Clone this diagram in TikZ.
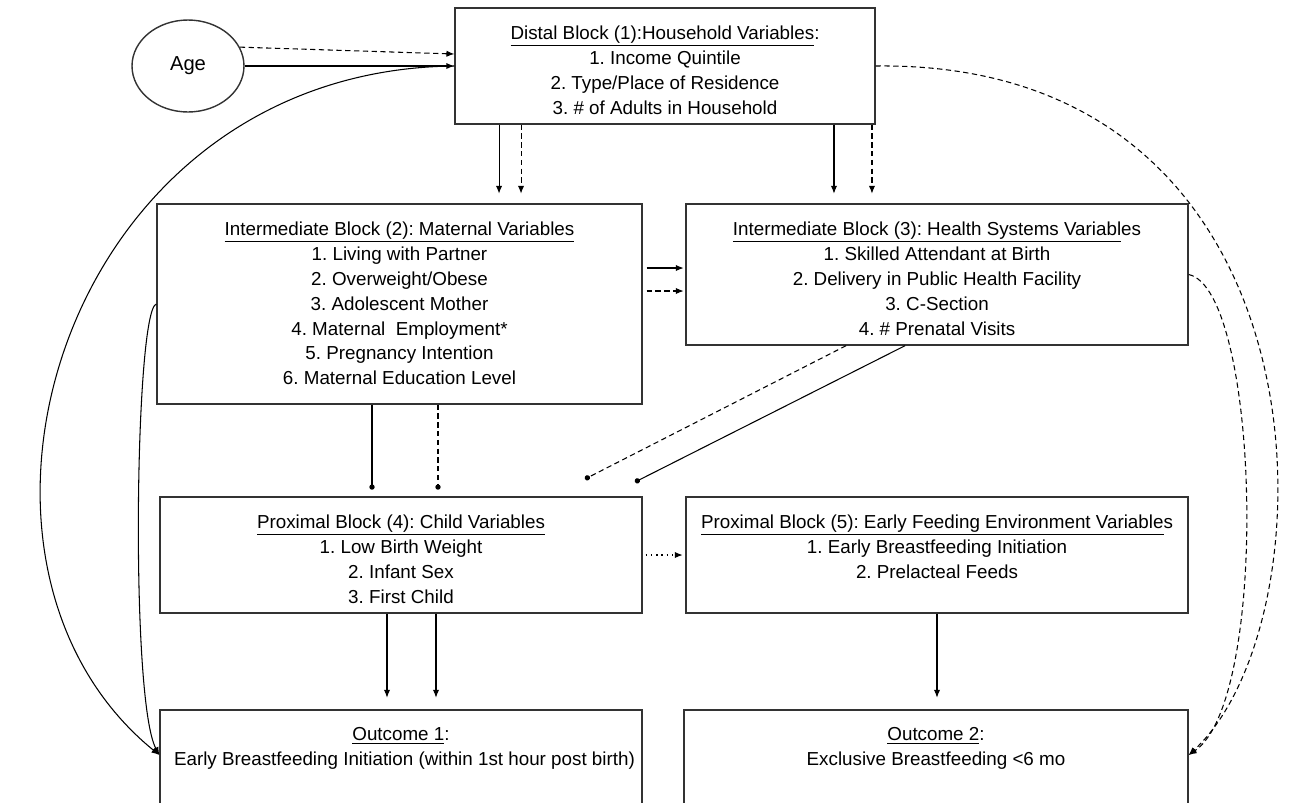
\documentclass[tikz,border=0pt]{standalone}
\usepackage{fontspec}
\setmainfont{Liberation Sans}
\usetikzlibrary{arrows.meta,positioning,shapes.geometric}
\frenchspacing
\newcommand{\blocktext}[3]{\parbox[c][#2][t]{#1}{\centering\vspace*{10pt}#3}}

\begin{document}
\begin{tikzpicture}[x=0.02cm,y=-0.02cm,
    blk/.style={draw=black!80,line width=0.8pt,inner xsep=0.28cm,inner ysep=0pt,font={\fontsize{10.7}{14.2}\selectfont}},
    link/.style={line width=0.6pt,-{Latex[length=4.5pt,width=3.6pt]}},
    dlink/.style={link,dash pattern=on 3pt off 2pt},
    tie/.style={line width=0.6pt,-{Circle[length=3pt]}}]
    \useasboundingbox (0,0) rectangle (1290,802);
    \clip (0,0) rectangle (1290,802);

    \node[draw=black!80,line width=0.8pt,ellipse,minimum width=2.24cm,minimum height=1.84cm,inner sep=0pt,font={\fontsize{11.5}{14}\selectfont}] (age) at (188,66) {Age};

    \node[blk] (dist) at (665,66) {\blocktext{7.84cm}{2.32cm}{\underline{Distal Block (1):Household Variables}:\\
        1. Income Quintile\\ 2. Type/Place of Residence\\ 3. \# of Adults in Household}};
    \node[blk] (mat) at (399.5,304) {\blocktext{9.14cm}{4cm}{\underline{Intermediate Block (2): Maternal Variables}\\
        1. Living with Partner\\ 2. Overweight/Obese\\ 3. Adolescent Mother\\ 4. Maternal~ Employment*\\
        5. Pregnancy Intention\\ 6. Maternal Education Level}};
    \node[blk] (hs) at (937,274.5) {\blocktext{9.48cm}{2.82cm}{\underline{Intermediate Block (3): Health Systems Variabl}es\\
        1. Skilled Attendant at Birth\\ 2. Delivery in Public Health Facility\\ 3. C-Section\\ 4. \# Prenatal Visits}};
    \node[blk] (child) at (401,555) {\blocktext{9.08cm}{2.32cm}{\underline{Proximal Block (4): Child Variables}\\
        1. Low Birth Weight\\ 2. Infant Sex\\ 3. First Child}};
    \node[blk] (feed) at (937,555) {\blocktext{9.48cm}{2.32cm}{\underline{Proximal Block (5): Early Feeding Environment Variable}s\\
        1. Early Breastfeeding Initiation\\ 2. Prelacteal Feeds}};
    \node[blk] (out1) at (401,780) {\blocktext{9.08cm}{2.8cm}{\underline{Outcome 1}:\\
        \mbox{Early Breastfeeding Initiation (within 1st hour post birth)}}};
    \node[blk] (out2) at (936,780) {\blocktext{9.52cm}{2.8cm}{\underline{Outcome 2}:\\
        Exclusive Breastfeeding {<}6 mo}};

    \coordinate (dotA) at (585,479);
    \coordinate (dotB) at (635,482);

    \draw[dlink] (age.20) -- ([yshift=0.24cm]dist.west);
    \draw[link,line width=1.1pt] (age.east) -- (dist.west);
    \draw[link] (dist.west) .. controls (60,70) and (-80,560) .. ([yshift=0.5cm]out1.west);
    \draw[link] (mat.west) .. controls (135,310) and (130,700) .. ([yshift=0.5cm]out1.west);
    \draw[dlink] (dist.east) .. controls (1340,60) and (1335,620) .. ([yshift=0.5cm]out2.east);
    \draw[dlink] (hs.east) .. controls (1260,290) and (1270,700) .. ([yshift=0.5cm]out2.east);

    \draw[link] ([xshift=-3.32cm]dist.south) -- ++(0,69);
    \draw[dlink] ([xshift=-2.88cm]dist.south) -- ++(0,69);
    \draw[link] ([xshift=3.38cm]dist.south) -- ++(0,69);
    \draw[dlink] ([xshift=4.14cm]dist.south) -- ++(0,69);

    \draw[link] ([xshift=0.08cm,yshift=0.72cm]mat.east) -- ++(37,0);
    \draw[dlink] ([xshift=0.08cm,yshift=0.26cm]mat.east) -- ++(37,0);

    \draw[tie] ([xshift=-0.55cm]mat.south) -- ++(0,85);
    \draw[tie,dash pattern=on 3pt off 2pt] ([xshift=0.77cm]mat.south) -- ++(0,85);
    \draw[tie,dash pattern=on 3pt off 2pt] ([xshift=-1.82cm]hs.south) -- (dotA);
    \draw[tie] ([xshift=-0.64cm]hs.south) -- (dotB);

    \draw[link,dash pattern=on 0.8pt off 2.2pt] ([xshift=0.06cm]child.east) -- ++(37,0);

    \draw[link] ([xshift=-0.28cm]child.south) -- ++(0,84);
    \draw[link] ([xshift=0.7cm]child.south) -- ++(0,84);
    \draw[link] (feed.south) -- ++(0,84);
\end{tikzpicture}
\end{document}
